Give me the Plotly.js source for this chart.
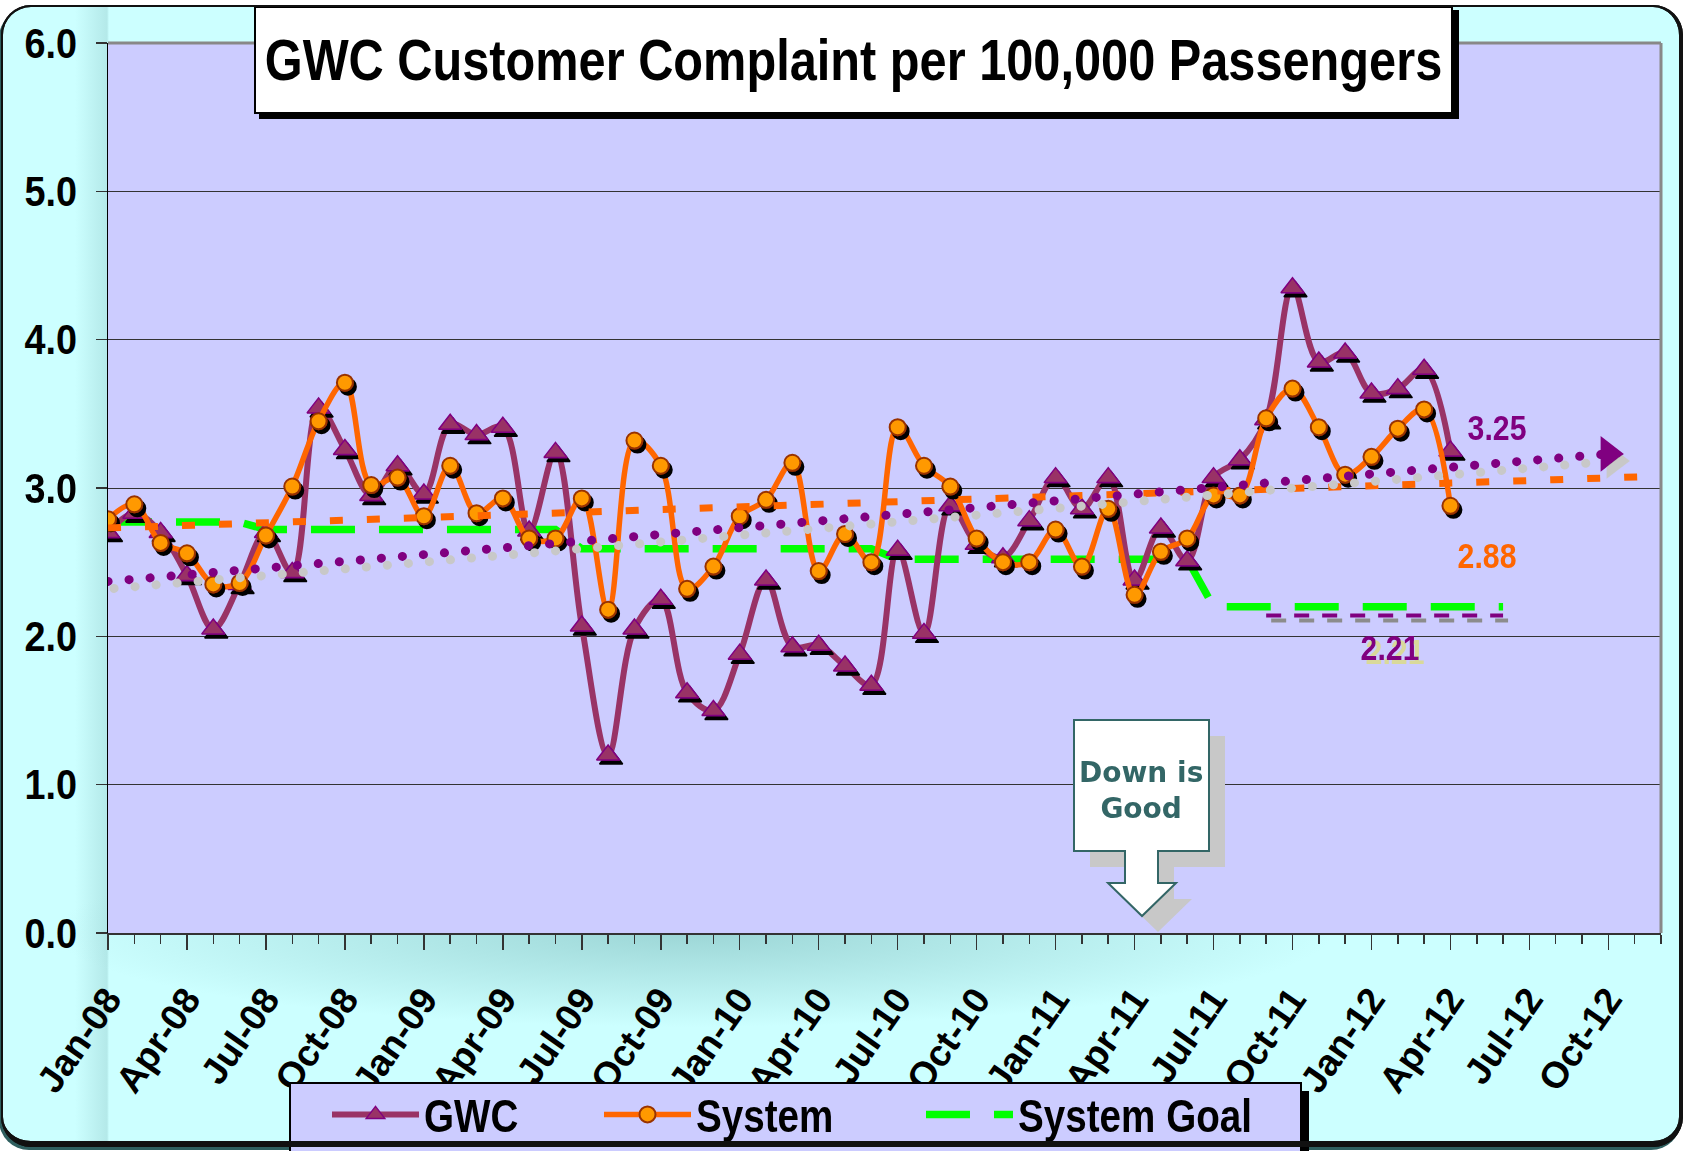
<!DOCTYPE html>
<html>
<head>
<meta charset="utf-8">
<script src="https://cdn.plot.ly/plotly-3.0.1.min.js"></script>
<style>
  html, body { margin:0; padding:0; background:#ffffff; width:1686px; height:1151px; overflow:hidden; }
  #frame, #frameTop {
    position:absolute; left:1px; top:5px; width:1682px; height:1142px; box-sizing:border-box;
    border:2px solid #111; border-right-width:4px; border-bottom-width:6px; border-radius:30px;
  }
  #frame {
    z-index:0;
    background:
      radial-gradient(ellipse 640px 95px at 690px 925px, rgba(140,200,200,0.75), rgba(204,255,255,0) 100%),
      linear-gradient(to right, rgba(204,255,255,0) 72px, rgba(160,215,215,0.55) 104px, rgba(204,255,255,0) 106px),
      #CCFFFF;
    box-shadow:-2px 3px 0 #2f5f5f;
  }
  #frameTop { z-index:10; background:transparent; pointer-events:none; }
  #chart { position:absolute; left:0; top:0; width:1686px; height:1151px; z-index:5; }
  /* emulate a narrow bold face for legend entries */
  #chart text.legendtext { transform: scaleX(0.84); transform-box: fill-box; transform-origin: 0% 50%; }
</style>
</head>
<body>
<svg width="0" height="0" style="position:absolute">
  <defs>
    <filter id="shBlack" filterUnits="userSpaceOnUse" x="-300" y="-300" width="2600" height="1800">
      <feDropShadow dx="3" dy="4" stdDeviation="0" flood-color="#000000" flood-opacity="1"/>
    </filter>
    <filter id="shGray" filterUnits="userSpaceOnUse" x="-300" y="-300" width="2600" height="1800">
      <feDropShadow dx="6" dy="7" stdDeviation="0" flood-color="#c8c8c8" flood-opacity="1"/>
    </filter>
    <filter id="shGray2" filterUnits="userSpaceOnUse" x="-300" y="-300" width="2600" height="1800">
      <feDropShadow dx="5" dy="5" stdDeviation="0" flood-color="#8c8c8c" flood-opacity="1"/>
    </filter>
    <filter id="shYellow" filterUnits="userSpaceOnUse" x="-300" y="-300" width="2600" height="1800">
      <feDropShadow dx="5" dy="4" stdDeviation="0" flood-color="#D9D99A" flood-opacity="1"/>
    </filter>
  </defs>
</svg>
<div id="frame"></div>
<div id="chart"></div>
<div id="frameTop"></div>
<script>
// ---------------- DATA ----------------
const months = ["Jan-08","Feb-08","Mar-08","Apr-08","May-08","Jun-08","Jul-08","Aug-08","Sep-08","Oct-08","Nov-08","Dec-08",
                "Jan-09","Feb-09","Mar-09","Apr-09","May-09","Jun-09","Jul-09","Aug-09","Sep-09","Oct-09","Nov-09","Dec-09",
                "Jan-10","Feb-10","Mar-10","Apr-10","May-10","Jun-10","Jul-10","Aug-10","Sep-10","Oct-10","Nov-10","Dec-10",
                "Jan-11","Feb-11","Mar-11","Apr-11","May-11","Jun-11","Jul-11","Aug-11","Sep-11","Oct-11","Nov-11","Dec-11",
                "Jan-12","Feb-12","Mar-12","Apr-12","May-12","Jun-12","Jul-12","Aug-12","Sep-12","Oct-12","Nov-12","Dec-12"];

const tickLabels = ["Jan-08","Apr-08","Jul-08","Oct-08","Jan-09","Apr-09","Jul-09","Oct-09","Jan-10","Apr-10",
                    "Jul-10","Oct-10","Jan-11","Apr-11","Jul-11","Oct-11","Jan-12","Apr-12","Jul-12","Oct-12"];

const gwc = [2.70,2.83,2.70,2.41,2.05,2.35,2.70,2.43,3.54,3.26,2.95,3.15,
             2.96,3.43,3.36,3.41,2.71,3.24,2.07,1.20,2.05,2.25,1.62,1.50,
             1.88,2.38,1.93,1.94,1.80,1.67,2.58,2.02,2.88,2.62,2.53,2.78,
             3.07,2.86,3.07,2.38,2.73,2.51,3.07,3.19,3.46,4.35,3.85,3.91,
             3.64,3.67,3.80,3.25];

const system = [2.79,2.89,2.63,2.56,2.35,2.36,2.68,3.01,3.45,3.71,3.02,3.07,
                2.81,3.15,2.83,2.93,2.66,2.66,2.93,2.18,3.32,3.15,2.32,2.47,
                2.81,2.92,3.17,2.44,2.69,2.50,3.41,3.15,3.01,2.66,2.50,2.50,
                2.72,2.47,2.86,2.28,2.57,2.66,2.95,2.95,3.47,3.67,3.41,3.09,
                3.21,3.40,3.53,2.88];

const systemGoal = [2.77,2.77,2.77,2.77,2.77,2.77,2.72,2.72,2.72,2.72,2.72,2.72,
                    2.72,2.72,2.72,2.72,2.72,2.72,2.59,2.59,2.59,2.59,2.59,2.59,
                    2.59,2.59,2.59,2.59,2.59,2.59,2.52,2.52,2.52,2.52,2.52,2.52,
                    2.52,2.52,2.52,2.52,2.52,2.52,2.20,2.20,2.20,2.20,2.20,2.20,
                    2.20,2.20,2.20,2.20,2.20,2.20];

const gwcTrendMonths = ["Jan-08","Oct-12"];
const gwcTrendValues = [2.37, 3.23];
const systemTrendMonths = ["Jan-08","Dec-12"];
const systemTrendValues = [2.73, 3.08];
const gwcGoalMonths = ["Sep-11","Jun-12"];
const gwcGoalValues = [2.14, 2.14];

const labelGwcLast = "3.25";
const labelSystemLast = "2.88";
const labelGwcGoal = "2.21";

// ---------------- HELPERS ----------------
const idx = m => months.indexOf(m);
const L = 108, T = 43, W = 1553, H = 890;   // plot area in pixels
const px = x => (x - L) / W;
const py = y => (T + H - y) / H;
const pathPx = pts => pts.map((p, i) => (i ? 'L' : 'M') + px(p[0]).toFixed(5) + ',' + py(p[1]).toFixed(5)).join(' ') + ' Z';

const SANS = "'Liberation Sans', Arial, sans-serif";
const SQUEEZE = 0.84;   // emulate a narrow bold face

// ---------------- TRACES ----------------
const lastOf = a => a[a.length - 1];
const traces = [
  { // 0 system goal
    x: systemGoal.map((v, i) => i), y: systemGoal, name: 'System Goal', type: 'scatter', mode: 'lines',
    line: { color: '#00FF00', width: 7.5, dash: '44px,24px' }, legendrank: 3, legendwidth: 250, hoverinfo: 'skip'
  },
  { // 1 GWC
    x: gwc.map((v, i) => i), y: gwc, name: 'GWC', type: 'scatter', mode: 'lines+markers',
    line: { color: '#993366', width: 6, shape: 'spline', smoothing: 1 },
    marker: { symbol: 'triangle-up', size: 20, color: '#993366', line: { color: '#800080', width: 1.5 } },
    legendrank: 1, legendwidth: 170
  },
  { // 2 System
    x: system.map((v, i) => i), y: system, name: 'System', type: 'scatter', mode: 'lines+markers',
    line: { color: '#FF6600', width: 5.5, shape: 'spline', smoothing: 1 },
    marker: { symbol: 'circle', size: 16, color: '#FF9900', line: { color: '#993300', width: 2 } },
    legendrank: 2, legendwidth: 220
  },
  { // 3 system trend
    x: systemTrendMonths.map(idx), y: systemTrendValues, type: 'scatter', mode: 'lines', showlegend: false,
    line: { color: '#FF6600', width: 7, dash: '13px,24px' }, hoverinfo: 'skip'
  },
  { // 4 GWC trend (dotted)
    x: gwcTrendMonths.map(idx), y: gwcTrendValues, type: 'scatter', mode: 'lines', showlegend: false,
    line: { color: '#800080', width: 9, dash: '0.1px,21px' }, hoverinfo: 'skip'
  },
  { // 5 GWC goal
    x: gwcGoalMonths.map(idx), y: gwcGoalValues, type: 'scatter', mode: 'lines', showlegend: false,
    line: { color: '#800080', width: 4, dash: '15px,13px' }, hoverinfo: 'skip'
  },
  { // 6 arrow head at end of GWC trend
    x: [idx(lastOf(gwcTrendMonths))], y: [lastOf(gwcTrendValues)], type: 'scatter', mode: 'markers', showlegend: false,
    marker: { symbol: 'triangle-right', size: 31, color: '#800080', opacity: 1, line: { width: 0 } }, hoverinfo: 'skip'
  }
];

// ---------------- LAYOUT ----------------
const calloutPts = [[1074,720],[1209,720],[1209,851],[1158,851],[1158,883],[1176,883],[1142,916],[1108,883],[1125,883],[1125,851],[1074,851]];
const calloutShadow = calloutPts.map(p => [p[0] + 16, p[1] + 16]);

const layout = {
  width: 1686, height: 1151,
  margin: { l: L, r: 1686 - L - W, t: T, b: 1151 - T - H, autoexpand: false },
  paper_bgcolor: 'rgba(0,0,0,0)',
  plot_bgcolor: '#CCCCFF',
  showlegend: true,
  title: {
    text: 'GWC Customer Complaint per 100,000 Passengers',
    font: { family: SANS, size: 58, weight: 'bold', color: '#000000' },
    xref: 'container', x: 853.5 / 1686, xanchor: 'center',
    yref: 'container', y: 1 - 60 / 1151, yanchor: 'middle'
  },
  xaxis: {
    range: [0, months.length - 1], type: 'linear',
    tickmode: 'array', tickvals: tickLabels.map(idx), ticktext: tickLabels,
    tickangle: -55, tickfont: { family: SANS, size: 37, weight: 'bold', color: '#000' },
    ticks: 'outside', ticklen: 15, tickwidth: 1.5, tickcolor: '#333',
    minor: { dtick: 1, tick0: 0, ticks: 'outside', ticklen: 9, tickwidth: 1.5, tickcolor: '#333', showgrid: false },
    showline: true, linecolor: '#333', linewidth: 2,
    showgrid: false, zeroline: false, ticklabelstandoff: 13, fixedrange: true
  },
  yaxis: {
    range: [0, 6], tick0: 0, dtick: 1, tickformat: '.1f',
    tickfont: { family: SANS, size: 42, weight: 'bold', color: '#000' },
    ticks: 'outside', ticklen: 11, tickwidth: 1.5, tickcolor: '#333',
    showline: true, linecolor: '#000', linewidth: 1.5,
    showgrid: true, gridcolor: '#333', gridwidth: 1, zeroline: false, ticklabelstandoff: 10, fixedrange: true
  },
  legend: {
    orientation: 'h', x: px(327), xanchor: 'left', y: py(1078), yanchor: 'top',
    bgcolor: 'rgba(0,0,0,0)', borderwidth: 0,
    font: { family: SANS, size: 46, weight: 'bold', color: '#000' },
    itemwidth: 87, traceorder: 'normal'
  },
  shapes: [
    { type: 'line', xref: 'paper', yref: 'paper', x0: 0, x1: 1, y0: 1, y1: 1, line: { color: '#888', width: 3 }, layer: 'above' },
    { type: 'line', xref: 'paper', yref: 'paper', x0: 1, x1: 1, y0: 0, y1: 1, line: { color: '#888', width: 3 }, layer: 'above' },
    // title box + shadow
    { type: 'rect', xref: 'paper', yref: 'paper', x0: px(259), x1: px(1459), y0: py(10), y1: py(119), fillcolor: '#000', line: { width: 0 }, layer: 'above' },
    { type: 'rect', xref: 'paper', yref: 'paper', x0: px(255), x1: px(1452), y0: py(7), y1: py(113), fillcolor: '#fff', line: { color: '#000', width: 2 }, layer: 'above' },
    // callout
    { type: 'path', xref: 'paper', yref: 'paper', path: pathPx(calloutShadow), fillcolor: '#C8C8C8', line: { width: 0 }, layer: 'above' },
    { type: 'path', xref: 'paper', yref: 'paper', path: pathPx(calloutPts), fillcolor: '#FFFFFF', line: { color: '#336666', width: 2 }, layer: 'above' },
    // legend box + shadow
    { type: 'rect', xref: 'paper', yref: 'paper', x0: px(1300), x1: px(1309), y0: py(1091), y1: py(1175), fillcolor: '#000', line: { width: 0 }, layer: 'above' },
    { type: 'rect', xref: 'paper', yref: 'paper', x0: px(290), x1: px(1301), y0: py(1083), y1: py(1175), fillcolor: '#CCCCFF', line: { color: '#000', width: 2 }, layer: 'above' }
  ],
  annotations: [
    { xref: 'paper', yref: 'paper', x: px(1141), y: py(790), text: 'Down is<br>Good', showarrow: false,
      font: { family: "'DejaVu Sans', Verdana, sans-serif", size: 28, weight: 'bold', color: '#336666' }, xanchor: 'center', yanchor: 'middle' },
    { xref: 'paper', yref: 'paper', x: px(1497), y: py(428), text: labelGwcLast, showarrow: false,
      font: { family: SANS, size: 36, weight: 'bold', color: '#800080' }, xanchor: 'center', yanchor: 'middle' },
    { xref: 'paper', yref: 'paper', x: px(1487), y: py(555), text: labelSystemLast, showarrow: false,
      font: { family: SANS, size: 36, weight: 'bold', color: '#FF6600' }, xanchor: 'center', yanchor: 'middle' },
    { xref: 'paper', yref: 'paper', x: px(1390), y: py(647), text: labelGwcGoal, showarrow: false,
      font: { family: SANS, size: 36, weight: 'bold', color: '#800080' }, xanchor: 'center', yanchor: 'middle' }
  ]
};

function squeeze(el, s, anchor) {
  if (!el || el.getAttribute('data-sq')) return;
  const bb = el.getBBox();
  const ax = anchor === 'start' ? bb.x : (anchor === 'end' ? bb.x + bb.width : bb.x + bb.width / 2);
  const prev = el.getAttribute('transform') || '';
  el.setAttribute('transform', (prev + ' matrix(' + s + ',0,0,1,' + (ax * (1 - s)) + ',0)').trim());
  el.setAttribute('data-sq', '1');
}

function finish() {
  const root = document.getElementById('chart');
  const tr = root.querySelectorAll('.scatterlayer .trace');
  if (tr.length >= 7) {
    [1, 2].forEach(k => { const g = tr[k].querySelector('g.points'); if (g) g.setAttribute('filter', 'url(#shBlack)'); });
    tr[4].setAttribute('filter', 'url(#shGray)');
    tr[4].querySelectorAll('path.js-line').forEach(p => { p.style.strokeLinecap = 'round'; });
    tr[5].setAttribute('filter', 'url(#shGray2)');
    tr[6].setAttribute('filter', 'url(#shGray)');
  }
  squeeze(root.querySelector('.gtitle'), SQUEEZE, 'middle');
  root.querySelectorAll('.ytick text').forEach(t => squeeze(t, 0.9, 'end'));
  const ann = root.querySelectorAll('.annotation');
  for (let i = 1; i < ann.length; i++) squeeze(ann[i].querySelector('text'), SQUEEZE, 'middle');
  if (ann[3]) ann[3].setAttribute('filter', 'url(#shYellow)');
}

Plotly.newPlot('chart', traces, layout, { staticPlot: true, displayModeBar: false }).then(function () {
  finish();
  setTimeout(finish, 150);
});
</script>
</body>
</html>
